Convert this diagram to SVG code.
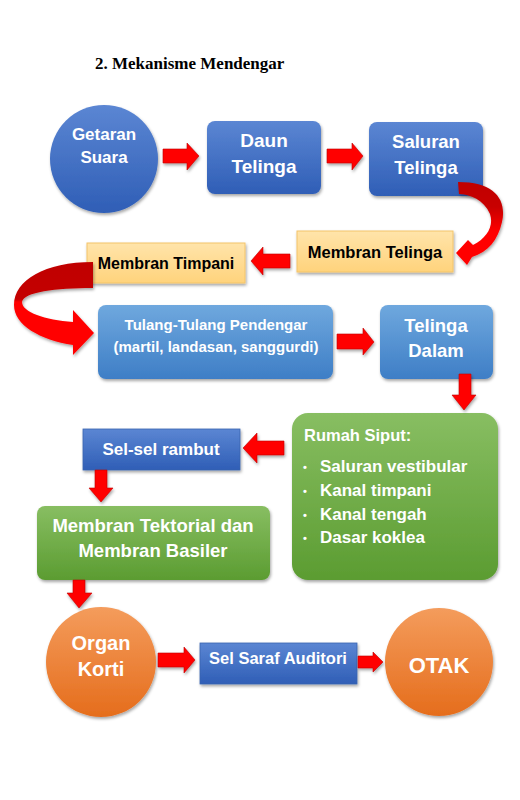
<svg xmlns="http://www.w3.org/2000/svg" width="520" height="800" viewBox="0 0 520 800">
<defs>
<linearGradient id="gBlue" x1="0" y1="0" x2="0" y2="1"><stop offset="0" stop-color="#5B86D3"/><stop offset="1" stop-color="#2F5EB6"/></linearGradient>
<linearGradient id="gLight" x1="0" y1="0" x2="0" y2="1"><stop offset="0" stop-color="#6FA8DE"/><stop offset="1" stop-color="#3E7EC6"/></linearGradient>
<linearGradient id="gGreen" x1="0" y1="0" x2="0" y2="1"><stop offset="0" stop-color="#88BE62"/><stop offset="1" stop-color="#5B9C31"/></linearGradient>
<linearGradient id="gOrange" x1="0" y1="0" x2="0" y2="1"><stop offset="0" stop-color="#F49C5C"/><stop offset="1" stop-color="#E56D1C"/></linearGradient>
<linearGradient id="gYellow" x1="0" y1="0" x2="0" y2="1"><stop offset="0" stop-color="#FFE4AA"/><stop offset="1" stop-color="#FFD37C"/></linearGradient>
<linearGradient id="gCurve1" x1="0" y1="0" x2="0" y2="1"><stop offset="0" stop-color="#C00000"/><stop offset="0.3" stop-color="#C80000"/><stop offset="0.6" stop-color="#FF0000"/><stop offset="1" stop-color="#FF0000"/></linearGradient>
<linearGradient id="gCurve2" x1="0" y1="0" x2="0" y2="1"><stop offset="0" stop-color="#C00000"/><stop offset="0.4" stop-color="#C40000"/><stop offset="0.43" stop-color="#FF0000"/><stop offset="1" stop-color="#FF0000"/></linearGradient>
<filter id="sh" x="-10%" y="-10%" width="125%" height="130%"><feDropShadow dx="1" dy="2" stdDeviation="1.5" flood-color="#000" flood-opacity="0.35"/></filter>
</defs>
<style>
.t{font-family:"Liberation Sans",Arial,sans-serif;font-weight:bold;fill:#fff;text-anchor:middle}
.k{fill:#000}
.l{text-anchor:start}
.arr{fill:#FF0000;stroke:#C00000;stroke-width:0.6;filter:url(#sh)}
.box{filter:url(#sh)}
</style>
<rect width="520" height="800" fill="#fff"/>
<text x="95" y="69" font-family="'Liberation Serif','Times New Roman',serif" font-weight="bold" font-size="17" fill="#000">2. Mekanisme Mendengar</text>

<g id="n-getaran"><circle class="box" cx="104" cy="159" r="54" fill="url(#gBlue)"/><text class="t" font-size="17" x="104" y="140">Getaran</text><text class="t" font-size="17" x="104" y="163">Suara</text></g>
<g id="n-daun"><rect class="box" x="207" y="121" width="114" height="73" rx="8" fill="url(#gBlue)"/><text class="t" font-size="19" x="264" y="147">Daun</text><text class="t" font-size="19" x="264" y="173">Telinga</text></g>
<g id="n-saluran"><rect class="box" x="369" y="122" width="114" height="74" rx="8" fill="url(#gBlue)"/><text class="t" font-size="18.5" x="426" y="148">Saluran</text><text class="t" font-size="18.5" x="426" y="174">Telinga</text></g>
<g id="n-membran-telinga"><rect class="box" x="297" y="231" width="156" height="41" fill="url(#gYellow)" stroke="#F3C46A" stroke-width="1"/><text class="t k" font-size="16.5" x="375" y="258">Membran Telinga</text></g>
<g id="n-membran-timpani"><rect class="box" x="87" y="243" width="158" height="40" fill="url(#gYellow)" stroke="#F3C46A" stroke-width="1"/><text class="t k" font-size="16" x="166" y="269">Membran Timpani</text></g>
<g id="n-tulang"><rect class="box" x="98" y="305" width="235" height="74" rx="8" fill="url(#gLight)"/><text class="t" font-size="15" x="216" y="330">Tulang-Tulang Pendengar</text><text class="t" font-size="15" x="216" y="352">(martil, landasan, sanggurdi)</text></g>
<g id="n-telinga-dalam"><rect class="box" x="380" y="305" width="113" height="74" rx="8" fill="url(#gLight)"/><text class="t" font-size="18.5" x="436" y="332">Telinga</text><text class="t" font-size="18.5" x="436" y="357">Dalam</text></g>
<g id="n-rumah-siput"><rect class="box" x="292" y="413" width="206" height="167" rx="16" fill="url(#gGreen)"/>
<text class="t l" font-size="16.5" x="304" y="441">Rumah Siput:</text>
<text class="t l" font-size="11" x="303" y="471">•</text><text class="t l" font-size="17" x="320" y="472">Saluran vestibular</text>
<text class="t l" font-size="11" x="303" y="495">•</text><text class="t l" font-size="17" x="320" y="496">Kanal timpani</text>
<text class="t l" font-size="11" x="303" y="519">•</text><text class="t l" font-size="17" x="320" y="520">Kanal tengah</text>
<text class="t l" font-size="11" x="303" y="542">•</text><text class="t l" font-size="17" x="320" y="543">Dasar koklea</text></g>
<g id="n-sel-rambut"><rect class="box" x="83" y="429" width="157" height="41" fill="url(#gBlue)" stroke="#3A64B0" stroke-width="0.8"/><text class="t" font-size="17" x="161" y="455">Sel-sel rambut</text></g>
<g id="n-tektorial"><rect class="box" x="37" y="506" width="233" height="74" rx="8" fill="url(#gGreen)"/><text class="t" font-size="18.5" x="153" y="532">Membran Tektorial dan</text><text class="t" font-size="18.5" x="153" y="557">Membran Basiler</text></g>
<g id="n-organ-korti"><circle class="box" cx="101" cy="662" r="55" fill="url(#gOrange)"/><text class="t" font-size="20" x="101" y="650">Organ</text><text class="t" font-size="20" x="101" y="676">Korti</text></g>
<g id="n-sel-saraf"><rect class="box" x="200" y="643" width="157" height="41" fill="url(#gBlue)" stroke="#3A64B0" stroke-width="0.8"/><text class="t" font-size="16.5" x="278" y="664">Sel Saraf Auditori</text></g>
<g id="n-otak"><circle class="box" cx="439" cy="662" r="54" fill="url(#gOrange)"/><text class="t" font-size="22" x="439" y="673">OTAK</text></g>

<g id="connectors">
<path class="arr" d="M163,149 H187 V143 L199,156 L187,170 V163 H163 Z"/>
<path class="arr" d="M327,149 H352 V143 L363,156 L352,170 V163 H327 Z"/>
<path fill="url(#gCurve1)" filter="url(#sh)" d="M458,182 C495,182 507,200 502,222 C498,240 488,252 472,257 L467,265 L456,253 L468,240 L473,245 C487,238 494,226 490,214 C484,200 470,194 459,194 Z"/>
<path class="arr" d="M290,254 H263 V247 L251,261 L263,275 V268 H290 Z"/>
<path fill="url(#gCurve2)" filter="url(#sh)" d="M93,262 C45,262 14,280 14,305 C14,325 40,340 73,345 L73,355 L94,333 L73,310 L73,322 C45,320 22,312 22,302 C24,292 55,288 93,288 Z"/>
<path class="arr" d="M337,334 H363 V328 L374,342 L363,355 V349 H337 Z"/>
<path class="arr" d="M459,374 H471 V395 H476 L464,410 L452,395 H459 Z"/>
<path class="arr" d="M284,441 H257 V433 L243,448 L257,463 V455 H284 Z"/>
<path class="arr" d="M95,470 H107 V488 H113 L101,502 L89,488 H95 Z"/>
<path class="arr" d="M73,580 H85 V593 H92 L79,608 L67,593 H73 Z"/>
<path class="arr" d="M158,653 H184 V647 L195,660 L184,673 V667 H158 Z"/>
<path class="arr" d="M358,656 H373 V652 L383,662 L373,672 V668 H358 Z"/>
</g>
</svg>
